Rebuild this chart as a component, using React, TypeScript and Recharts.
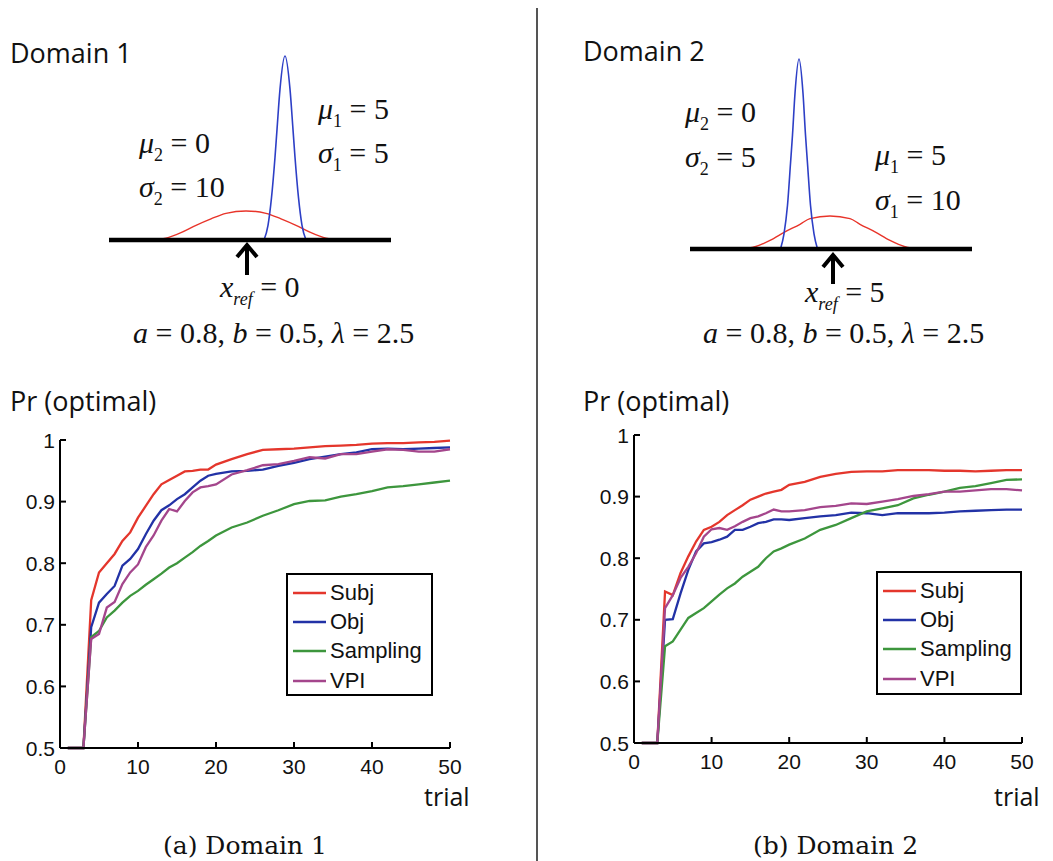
import React from 'react';
import { LineChart, Line, XAxis, YAxis, Legend } from 'recharts';

// ---------- performance curves ----------
const trials = [1, 2, 3, 4, 5, 6, 7, 8, 9, 10, 11, 12, 13, 14, 15, 16, 17, 18, 19, 20, 22, 24, 26, 28, 30, 32, 34, 36, 38, 40, 42, 44, 46, 48, 50];

const d1Subj = [0.5, 0.5, 0.5, 0.74, 0.785, 0.8, 0.815, 0.836, 0.85, 0.874, 0.893, 0.912, 0.928, 0.935, 0.942, 0.949, 0.95, 0.952, 0.952, 0.96, 0.969, 0.977, 0.984, 0.985, 0.986, 0.988, 0.99, 0.991, 0.992, 0.994, 0.995, 0.995, 0.996, 0.997, 0.999];
const d1Obj = [0.5, 0.5, 0.5, 0.696, 0.736, 0.75, 0.763, 0.796, 0.807, 0.823, 0.847, 0.869, 0.886, 0.894, 0.904, 0.912, 0.923, 0.934, 0.942, 0.945, 0.949, 0.95, 0.952, 0.958, 0.963, 0.969, 0.973, 0.977, 0.98, 0.985, 0.986, 0.985, 0.986, 0.987, 0.988];
const d1Samp = [0.5, 0.5, 0.5, 0.68, 0.69, 0.712, 0.723, 0.736, 0.747, 0.755, 0.765, 0.774, 0.783, 0.793, 0.8, 0.809, 0.818, 0.828, 0.836, 0.845, 0.858, 0.866, 0.877, 0.886, 0.896, 0.901, 0.902, 0.908, 0.912, 0.917, 0.923, 0.925, 0.928, 0.931, 0.934];
const d1Vpi = [0.5, 0.5, 0.5, 0.677, 0.685, 0.728, 0.737, 0.766, 0.785, 0.798, 0.826, 0.845, 0.869, 0.888, 0.884, 0.901, 0.915, 0.923, 0.925, 0.928, 0.944, 0.951, 0.959, 0.961, 0.966, 0.972, 0.97, 0.977, 0.977, 0.981, 0.985, 0.984, 0.981, 0.981, 0.985];

const d2Subj = [0.5, 0.5, 0.5, 0.746, 0.74, 0.776, 0.803, 0.827, 0.846, 0.851, 0.859, 0.87, 0.878, 0.886, 0.895, 0.9, 0.905, 0.908, 0.911, 0.919, 0.924, 0.932, 0.937, 0.94, 0.941, 0.941, 0.943, 0.943, 0.943, 0.942, 0.942, 0.941, 0.942, 0.943, 0.943];
const d2Obj = [0.5, 0.5, 0.5, 0.7, 0.701, 0.743, 0.781, 0.811, 0.824, 0.826, 0.83, 0.835, 0.846, 0.846, 0.851, 0.857, 0.859, 0.863, 0.863, 0.862, 0.865, 0.868, 0.87, 0.874, 0.873, 0.87, 0.873, 0.873, 0.873, 0.874, 0.876, 0.877, 0.878, 0.879, 0.879];
const d2Samp = [0.5, 0.5, 0.5, 0.657, 0.665, 0.684, 0.703, 0.711, 0.719, 0.73, 0.741, 0.751, 0.759, 0.77, 0.778, 0.786, 0.8, 0.811, 0.816, 0.822, 0.832, 0.846, 0.854, 0.865, 0.876, 0.881, 0.886, 0.897, 0.903, 0.908, 0.914, 0.917, 0.922, 0.927, 0.928];
const d2Vpi = [0.5, 0.5, 0.5, 0.719, 0.74, 0.768, 0.786, 0.808, 0.835, 0.847, 0.849, 0.846, 0.852, 0.859, 0.865, 0.868, 0.873, 0.879, 0.876, 0.876, 0.878, 0.883, 0.885, 0.889, 0.888, 0.892, 0.896, 0.901, 0.904, 0.908, 0.908, 0.91, 0.912, 0.912, 0.91];

const seriesKeys = ['subj', 'obj', 'samp', 'vpi'];
const seriesNames = ['Subj', 'Obj', 'Sampling', 'VPI'];
const seriesColors = ['#e4362c', '#2232a6', '#3d963d', '#a4468c'];

const xTicks = [0, 10, 20, 30, 40, 50];
const yTicks = [0.5, 0.6, 0.7, 0.8, 0.9, 1];

// ---------- schematic distributions (horizontal units of the diagram) ----------
const d1NarrowX = [15.5, 15.9, 16.25, 16.6, 16.8, 17.1, 17.6, 18.1, 18.4, 18.6, 18.95, 19.3, 19.7];
const d1NarrowY = [0, 0.08, 0.23, 0.45, 0.6, 0.82, 1, 0.82, 0.6, 0.45, 0.23, 0.08, 0];
const d1WideX = [4.2, 5.7, 7.2, 8.7, 10.2, 11.7, 13.7, 15.7, 17.2, 18.7, 20.2, 21.7, 23.2];
const d1WideY = [0, 0.01, 0.04, 0.08, 0.115, 0.145, 0.158, 0.145, 0.115, 0.08, 0.04, 0.01, 0];

const d2NarrowX = [9.05, 9.4, 9.75, 10.05, 10.25, 10.5, 10.9, 11.3, 11.55, 11.75, 12.05, 12.4, 12.75];
const d2NarrowY = [0, 0.08, 0.23, 0.45, 0.6, 0.82, 1, 0.82, 0.6, 0.45, 0.23, 0.08, 0];
const d2WideX = [5.0, 6.5, 8.0, 9.5, 11.0, 12.0, 14.0, 16.0, 17.0, 18.5, 20.0, 21.5, 23.0];
const d2WideY = [0, 0.012, 0.045, 0.09, 0.13, 0.16, 0.174, 0.16, 0.13, 0.09, 0.045, 0.012, 0];

const baselineX = [0, 28.2];

const zip = (xs: number[], ys: number[]) => xs.map((x, i) => ({ x, y: ys[i] }));

const buildRows = (a: number[], b: number[], c: number[], d: number[]) =>
  trials.map((t, i) => ({ t, subj: a[i], obj: b[i], samp: c[i], vpi: d[i] }));

const SANS = "'Liberation Sans', Arial, Helvetica, sans-serif";
const CAL = "'Open Sans', 'Noto Sans', sans-serif";
const SERIF = "'Liberation Serif', 'Times New Roman', serif";

const XTick = (p: any) => {
  const axisY = p.y - 6;
  return (
    <g>
      <line x1={p.x} x2={p.x} y1={axisY} y2={axisY - 6} stroke="#000" strokeWidth={2} />
      <text x={p.x} y={axisY + 26} textAnchor="middle" fontFamily={SANS} fontSize={21} fill="#111">
        {p.payload.value}
      </text>
    </g>
  );
};

const YTick = (p: any) => {
  const axisX = p.x + 5;
  const v = p.payload.value;
  return (
    <g>
      <line x1={axisX} x2={axisX + 6} y1={p.y} y2={p.y} stroke="#000" strokeWidth={2} />
      <text x={p.x} y={p.y + 7.5} textAnchor="end" fontFamily={SANS} fontSize={21} fill="#111">
        {v === 1 ? '1' : v.toFixed(1)}
      </text>
    </g>
  );
};

const LegendBox = (props: any) => {
  const payload = [...(props.payload || [])].sort(
    (a: any, b: any) => seriesNames.indexOf(a.value) - seriesNames.indexOf(b.value)
  );
  return (
    <div
      style={{
        width: '100%',
        height: '100%',
        border: '2px solid #000',
        boxSizing: 'border-box',
        background: '#fff',
        paddingTop: 3,
      }}
    >
      {payload.map((e: any) => (
        <div key={e.value} style={{ display: 'flex', alignItems: 'center', height: 29.3 }}>
          <svg width={40} height={6} style={{ display: 'block' }}>
            <line x1={5} x2={38} y1={3} y2={3} stroke={e.color} strokeWidth={2.5} />
          </svg>
          <span style={{ fontFamily: SANS, fontSize: 22, color: '#111', lineHeight: 1, marginLeft: 2 }}>{e.value}</span>
        </div>
      ))}
    </div>
  );
};

type PerfProps = { left: number; top: number; rows: any[]; mRight: number; lg: { left: number; top: number; w: number; h: number } };

const PerfChart = ({ left, top, rows, mRight, lg }: PerfProps) => (
  <div style={{ position: 'absolute', left, top }}>
    <LineChart width={480} height={370} data={rows} margin={{ top: 20, right: mRight, bottom: 12, left: 10 }}>
      <XAxis
        type="number"
        dataKey="t"
        domain={[0, 50]}
        ticks={xTicks}
        tickSize={0}
        tickMargin={6}
        tick={<XTick />}
        tickLine={false}
        axisLine={{ stroke: '#000', strokeWidth: 2 }}
        height={30}
      />
      <YAxis
        type="number"
        domain={[0.5, 1]}
        ticks={yTicks}
        tickSize={0}
        tickMargin={5}
        tick={<YTick />}
        tickLine={false}
        axisLine={{ stroke: '#000', strokeWidth: 2 }}
        width={50}
      />
      <Legend
        layout="vertical"
        align="center"
        verticalAlign="middle"
        content={<LegendBox />}
        wrapperStyle={{ position: 'absolute', left: lg.left, top: lg.top, width: lg.w, height: lg.h, margin: 0 }}
      />
      {seriesKeys.map((k, i) => (
        <Line
          key={k}
          type="linear"
          dataKey={k}
          name={seriesNames[i]}
          stroke={seriesColors[i]}
          strokeWidth={2.3}
          dot={false}
          activeDot={false}
          isAnimationActive={false}
        />
      ))}
    </LineChart>
  </div>
);

type DiagProps = { left: number; top: number; h: number; narrow: any[]; wide: any[] };

const Diagram = ({ left, top, h, narrow, wide }: DiagProps) => (
  <div style={{ position: 'absolute', left, top }}>
    <LineChart width={290} height={h} margin={{ top: 4, right: 4, bottom: 4, left: 4 }}>
      <XAxis type="number" dataKey="x" domain={[0, 28.2]} hide />
      <YAxis type="number" dataKey="y" domain={[0, 1]} hide />
      <Line data={wide} dataKey="y" type="monotone" stroke="#e8342a" strokeWidth={1.4} dot={false} activeDot={false} isAnimationActive={false} />
      <Line data={narrow} dataKey="y" type="monotone" stroke="#2d3fc6" strokeWidth={1.6} dot={false} activeDot={false} isAnimationActive={false} />
      <Line
        data={baselineX.map((x) => ({ x, y: 0 }))}
        dataKey="y"
        type="linear"
        stroke="#000"
        strokeWidth={4.5}
        dot={false}
        activeDot={false}
        isAnimationActive={false}
      />
    </LineChart>
  </div>
);

type Part = { t: string; i?: boolean; sub?: boolean };

const MathText = ({ x, y, parts, size = 30 }: { x: number; y: number; parts: Part[]; size?: number }) => {
  let prevSub = false;
  return (
    <text x={x} y={y} fontFamily={SERIF} fontSize={size} fill="#111" style={{ whiteSpace: 'pre' }}>
      {parts.map((p, k) => {
        let dy = 0;
        if (p.sub && !prevSub) dy = size * 0.27;
        if (!p.sub && prevSub) dy = -size * 0.27;
        prevSub = !!p.sub;
        return (
          <tspan key={k} dy={dy} fontStyle={p.i ? 'italic' : 'normal'} fontSize={p.sub ? size * 0.6 : size}>
            {p.t}
          </tspan>
        );
      })}
    </text>
  );
};

const Arrow = ({ x, tip, end }: { x: number; tip: number; end: number }) => (
  <g stroke="#000" strokeWidth={4} fill="none">
    <line x1={x} x2={x} y1={tip + 2} y2={end} />
    <polyline points={`${x - 10},${tip + 14} ${x},${tip + 2} ${x + 10},${tip + 14}`} strokeLinejoin="miter" />
  </g>
);

const formula: Part[] = [
  { t: 'a', i: true },
  { t: ' = 0.8, ' },
  { t: 'b', i: true },
  { t: ' = 0.5, ' },
  { t: 'λ', i: true },
  { t: ' = 2.5' },
];

export default function App() {
  const rows1 = buildRows(d1Subj, d1Obj, d1Samp, d1Vpi);
  const rows2 = buildRows(d2Subj, d2Obj, d2Samp, d2Vpi);
  return (
    <div style={{ position: 'fixed', left: 0, top: 0, width: 1053, height: 861, background: '#fff', overflow: 'hidden' }}>
      <Diagram left={105} top={52} h={192} narrow={zip(d1NarrowX, d1NarrowY)} wide={zip(d1WideX, d1WideY)} />
      <Diagram left={686} top={55} h={198} narrow={zip(d2NarrowX, d2NarrowY)} wide={zip(d2WideX, d2WideY)} />

      <PerfChart left={0} top={420} rows={rows1} mRight={30} lg={{ left: 286, top: 153, w: 147, h: 123 }} />
      <PerfChart left={574} top={415} rows={rows2} mRight={32} lg={{ left: 302, top: 156, w: 146, h: 124 }} />

      <svg width={1053} height={861} style={{ position: 'absolute', left: 0, top: 0, pointerEvents: 'none' }}>
        <line x1={537} x2={537} y1={8} y2={861} stroke="#555" strokeWidth={2} />

        <text x={10} y={63} fontFamily={CAL} fontSize={27} fill="#111">Domain 1</text>
        <text x={583} y={61} fontFamily={CAL} fontSize={27} fill="#111">Domain 2</text>

        <MathText x={318} y={119} parts={[{ t: 'μ', i: true }, { t: '1', sub: true }, { t: ' = 5' }]} />
        <MathText x={318} y={163} parts={[{ t: 'σ', i: true }, { t: '1', sub: true }, { t: ' = 5' }]} />
        <MathText x={139} y={153} parts={[{ t: 'μ', i: true }, { t: '2', sub: true }, { t: ' = 0' }]} />
        <MathText x={139} y={197} parts={[{ t: 'σ', i: true }, { t: '2', sub: true }, { t: ' = 10' }]} />
        <Arrow x={247} tip={243} end={275} />
        <MathText x={220} y={297} parts={[{ t: 'x', i: true }, { t: 'ref', i: true, sub: true }, { t: ' = 0' }]} />
        <MathText x={133} y={343} parts={formula} />

        <MathText x={685} y={122} parts={[{ t: 'μ', i: true }, { t: '2', sub: true }, { t: ' = 0' }]} />
        <MathText x={685} y={167} parts={[{ t: 'σ', i: true }, { t: '2', sub: true }, { t: ' = 5' }]} />
        <MathText x={875} y={165} parts={[{ t: 'μ', i: true }, { t: '1', sub: true }, { t: ' = 5' }]} />
        <MathText x={875} y={210} parts={[{ t: 'σ', i: true }, { t: '1', sub: true }, { t: ' = 10' }]} />
        <Arrow x={833} tip={253} end={284} />
        <MathText x={805} y={302} parts={[{ t: 'x', i: true }, { t: 'ref', i: true, sub: true }, { t: ' = 5' }]} />
        <MathText x={703} y={343} parts={formula} />

        <text x={10} y={411} fontFamily={CAL} fontSize={27} fill="#111">Pr (optimal)</text>
        <text x={583} y={411} fontFamily={CAL} fontSize={27} fill="#111">Pr (optimal)</text>

        <text x={424} y={806} fontFamily={CAL} fontSize={25} fill="#111">trial</text>
        <text x={994} y={806} fontFamily={CAL} fontSize={25} fill="#111">trial</text>

        <text x={163} y={854} fontFamily="'DejaVu Serif', serif" fontSize={25} fill="#111">(a) Domain 1</text>
        <text x={753} y={854} fontFamily="'DejaVu Serif', serif" fontSize={25} fill="#111">(b) Domain 2</text>
      </svg>
    </div>
  );
}
